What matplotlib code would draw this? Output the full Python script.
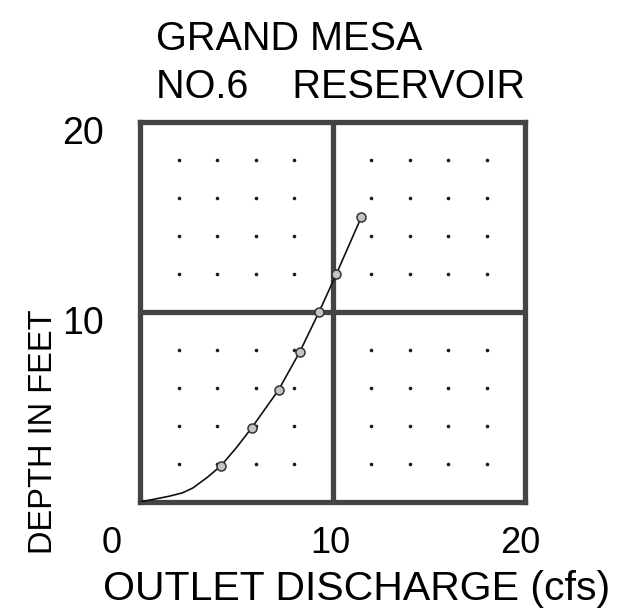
import matplotlib
matplotlib.use("Agg")
import matplotlib.pyplot as plt
import matplotlib.font_manager as fm
import matplotlib.transforms as mtransforms

# ---- data ----
title_lines = ["GRAND MESA", "NO.6    RESERVOIR"]
x_label = "OUTLET DISCHARGE (cfs)"
y_label = "DEPTH IN FEET"
x_tick_values = [0, 10, 20]
x_tick_labels = ["0", "10", "20"]
y_tick_values = [10, 20]
y_tick_labels = ["10", "20"]
dot_grid = [2, 4, 6, 8, 12, 14, 16, 18]

# measured points (discharge cfs, depth ft)
point_discharge = [4.2, 5.8, 7.2, 8.3, 9.3, 10.2, 11.5]
point_depth = [1.9, 3.9, 5.9, 7.9, 10.0, 12.0, 15.0]

# rating curve vertices
curve_discharge = [0.0, 0.8, 1.5, 2.2, 2.75, 3.5, 4.2, 5.0, 5.8, 6.5, 7.2, 7.75, 8.3, 8.8, 9.3, 10.2, 11.5]
curve_depth = [0.0, 0.16, 0.3, 0.48, 0.74, 1.3, 1.9, 2.85, 3.9, 4.9, 5.9, 6.9, 7.9, 8.95, 10.0, 12.0, 15.0]

# ---- font ----
avail = {f.name for f in fm.fontManager.ttflist}
fkw = dict(family="Liberation Sans" if "Liberation Sans" in avail else "DejaVu Sans")

W, H = 621, 614
fig = plt.figure(figsize=(W / 100, H / 100), dpi=100)
ax = fig.add_axes([140 / W, 1 - 502 / H, 385 / W, 380 / H])

frame_col = "#444444"
frame_lw = 3.8

ax.set_xlim(0, 20)
ax.set_ylim(0, 20)

# dotted grid
gxs = [gx for gx in dot_grid for gy in dot_grid]
gys = [gy for gx in dot_grid for gy in dot_grid]
ax.plot(gxs, gys, ls="none", marker="o", ms=2.6, color="#1a1a1a", mec="none", zorder=2)

# heavy mid lines
ax.axvline(10, color=frame_col, lw=frame_lw, zorder=1)
ax.axhline(10, color=frame_col, lw=frame_lw, zorder=1)

# curve and points
ax.plot(curve_discharge, curve_depth, color="#111111", lw=1.2, zorder=3,
        solid_joinstyle="round")
ax.plot(point_discharge, point_depth, ls="none", marker="o", ms=6.5,
        mfc="#c4c4c4", mec="#333333", mew=1.1, zorder=4)

for s in ax.spines.values():
    s.set_linewidth(frame_lw)
    s.set_color(frame_col)

ax.set_xticks(x_tick_values)
ax.set_yticks(y_tick_values)
ax.set_xticklabels(x_tick_labels, fontsize=26, **fkw)
ax.set_yticklabels(y_tick_labels, fontsize=27, **fkw)
ax.tick_params(length=0)
ax.tick_params(axis="x", pad=17)
ax.tick_params(axis="y", pad=26)

# shift tick labels like the drawing
for i, lab in enumerate(ax.get_xticklabels()):
    dx = [-28, -2, -5][i]
    lab.set_transform(lab.get_transform() + mtransforms.ScaledTranslation(dx / 100, 0, fig.dpi_scale_trans))
for lab in ax.get_yticklabels():
    lab.set_transform(lab.get_transform() + mtransforms.ScaledTranslation(0, -8 / 100, fig.dpi_scale_trans))

# titles and axis labels
fig.text(156 / W, 1 - 50 / H, title_lines[0], fontsize=28.5, ha="left", va="baseline", **fkw)
fig.text(156 / W, 1 - 98 / H, title_lines[1], fontsize=28.5, ha="left", va="baseline", **fkw)
fig.text(103 / W, 1 - 600 / H, x_label, fontsize=29.5, ha="left", va="baseline", **fkw)
fig.text(52 / W, 1 - 432 / H, y_label, fontsize=23.5, ha="center", va="baseline",
         rotation=90, rotation_mode="anchor", **fkw)

fig.savefig("out.png", dpi=100, facecolor="white")
